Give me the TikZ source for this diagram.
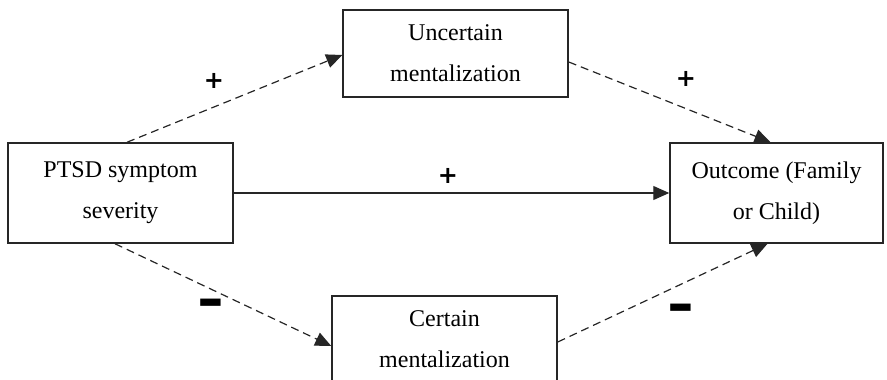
\documentclass[tikz,border=0pt]{standalone}
\usepackage{fontspec}
\setmainfont{Liberation Serif}
\newfontfamily\signfont{DejaVu Sans}
\usetikzlibrary{arrows.meta}
\begin{document}
\begin{tikzpicture}[x=1pt,y=-1pt,
  box/.style={draw=black!85,line width=1.5pt,minimum width=225pt,inner sep=0pt,
    align=center,font=\fontsize{24}{41}\selectfont},
  path/.style={line width=1.2pt,draw=black!85,
    -{Triangle[length=16pt,width=14pt]}},
  dashedpath/.style={path,dash pattern=on 8pt off 5pt},
  sign/.style={font=\signfont\bfseries\fontsize{24}{24}\selectfont,inner sep=0pt}]
  \useasboundingbox (0,0) rectangle (887,380);

  % boxes
  \node[box,minimum height=100pt] (ptsd) at (120.5,193) {PTSD symptom\\severity};
  \node[box,minimum height=87pt] (unc) at (455.5,53.5) {Uncertain\\mentalization};
  \node[box,minimum height=87pt] (cer) at (444.5,339.5) {Certain\\mentalization};
  \node[box,minimum height=100pt,minimum width=213pt] (out) at (776.5,193) {Outcome (Family\\or Child)};

  % paths
  \draw[dashedpath] ([xshift=6.5pt]ptsd.north) -- ([yshift=-1.5pt]unc.west);
  \draw[dashedpath] ([yshift=-8.5pt]unc.east) -- ([xshift=-6pt]out.north);
  \draw[path] (ptsd.east) -- (out.west);
  \draw[dashedpath] ([xshift=-5.5pt]ptsd.south) -- ([yshift=-6.5pt]cer.west);
  \draw[dashedpath] ([yshift=-2.5pt]cer.east) -- ([xshift=-9pt]out.south);

  % signs
  \node[sign] (s1) at (214,81) {+};
  \node[sign] (s2) at (686,79) {+};
  \node[sign] (s3) at (448,176) {+};
  \node[sign] (s4) at (211,309) {\scalebox{0.95}[2.4]{—}};
  \node[sign] (s5) at (681,314) {\scalebox{0.95}[2.4]{—}};
\end{tikzpicture}
\end{document}
